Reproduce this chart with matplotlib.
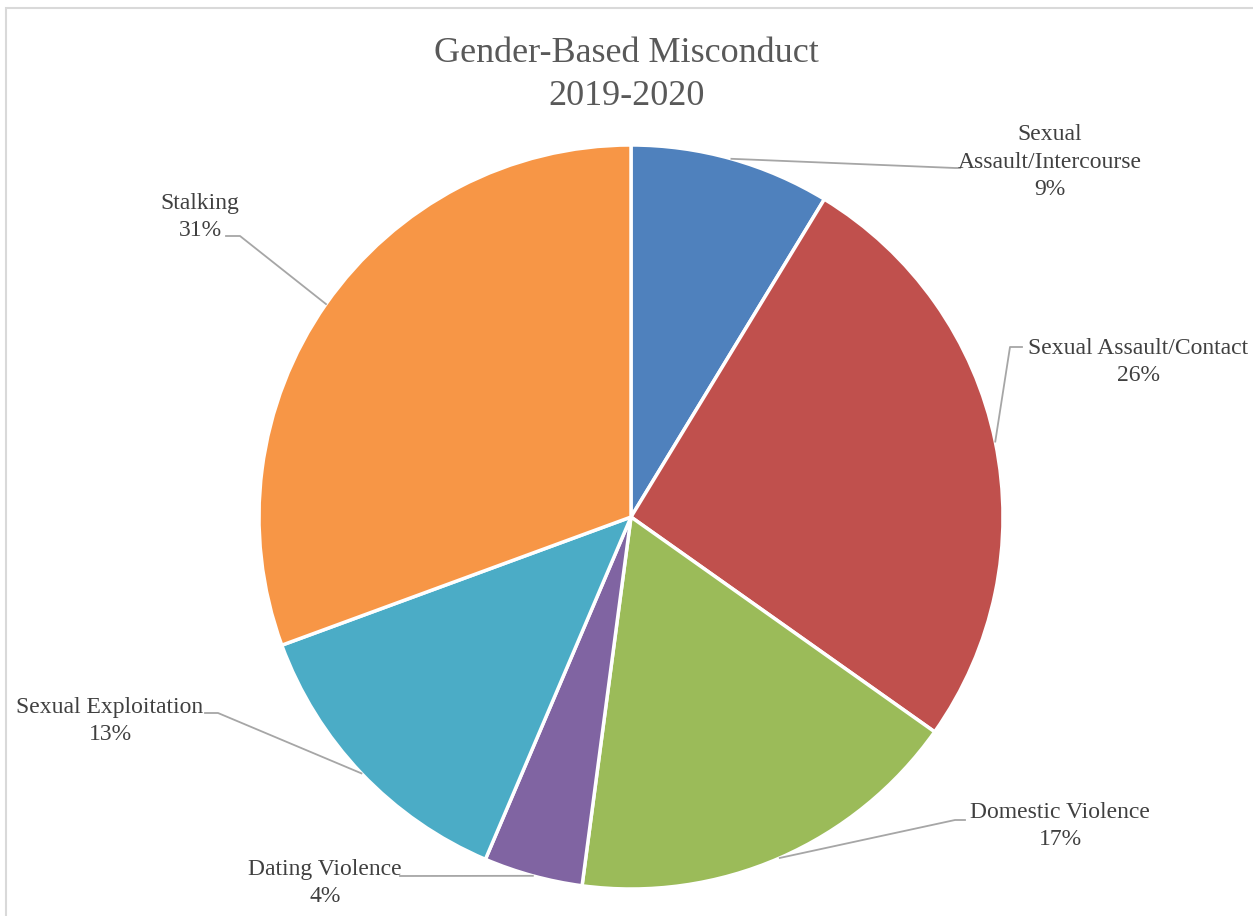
import matplotlib
matplotlib.use("Agg")
import matplotlib.pyplot as plt
import numpy as np
from matplotlib.patches import Rectangle

categories = ["Sexual\nAssault/Intercourse", "Sexual Assault/Contact", "Domestic Violence",
              "Dating Violence", "Sexual Exploitation", "Stalking"]
shares = [8.7, 26.1, 17.3, 4.3, 13.0, 30.6]
colors = ["#4F81BD", "#C0504D", "#9BBB59", "#8064A2", "#4BACC6", "#F79646"]

# label text centre and elbow of leader line (pixel coords, y down)
label_pos = [(1050, 162), (1138, 362), (1060, 826), (325, 883), (110, 721), (200, 217)]
elbow = [(955, 168), (1010, 347), (955, 820), (405, 876), (218, 713), (240, 236)]
text_end = [(960, 168), (1022, 347), (965, 820), (400, 876), (205, 713), (226, 236)]

W, H = 1253, 916
fig = plt.figure(figsize=(W / 100, H / 100), dpi=100)
ax = fig.add_axes([0, 0, 1, 1])

cx, cy, r = 631, H - 517, 372
wedges, _ = ax.pie(shares, colors=colors, startangle=90, counterclock=False,
                   center=(cx, cy), radius=r,
                   wedgeprops=dict(edgecolor="white", linewidth=2.5))
ax.set_xlim(0, W)
ax.set_ylim(0, H)
ax.set_aspect("auto")
ax.axis("off")

total = sum(shares)
font = "Liberation Serif"
for w, cat, s, lp, el, te in zip(wedges, categories, shares, label_pos, elbow, text_end):
    mid = np.deg2rad((w.theta1 + w.theta2) / 2)
    ax_ = cx + r * np.cos(mid)
    ay_ = cy + r * np.sin(mid)
    ax.plot([ax_, el[0], te[0]], [ay_, H - el[1], H - te[1]], color="#A6A6A6", lw=1.3)
    pct = round(100 * s / total)
    ax.text(lp[0], H - lp[1], f"{cat}\n{pct}%", ha="center", va="center",
            multialignment="center", fontsize=17, color="#404040", family=font,
            linespacing=1.42)

ax.text(W / 2, H - 75, "Gender-Based Misconduct\n2019-2020", ha="center", va="center",
        fontsize=26, color="#595959", family=font, linespacing=1.4)

fig.patches.append(Rectangle((6 / W, -0.1), 1.1, (H - 8) / H + 0.1, transform=fig.transFigure,
                             fill=False, edgecolor="#D9D9D9", lw=1.5))

fig.savefig("out.png", dpi=100)
